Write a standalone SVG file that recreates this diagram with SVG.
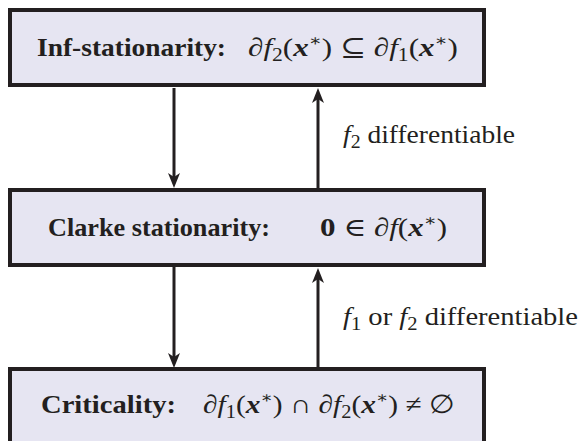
<svg xmlns="http://www.w3.org/2000/svg" width="582" height="441" viewBox="0 0 582 441">
<style>
  .box { fill: #e6e5f2; stroke: #231f20; stroke-width: 4; }
  .shaft { stroke: #231f20; stroke-width: 3; fill: none; }
  .head { fill: #231f20; stroke: none; }
  text { font-family: "Liberation Serif", "DejaVu Serif", serif; font-size: 26px; fill: #231f20; }
  .lbl { font-size: 25px; }
  .b { font-weight: bold; }
  .i { font-style: italic; }
  .bx { font-style: italic; font-weight: bold; }
  .sub { font-size: 18px; }
  .sup { font-size: 16px; }
</style>
<defs>
  <path id="hd" class="head" d="M0,0 L-6,-15 L0,-11 L6,-15 Z"/>
</defs>
<g id="connectors">
  <line class="shaft" x1="174" y1="88" x2="174" y2="178"/>
  <use href="#hd" transform="translate(174,188)"/>
  <line class="shaft" x1="318" y1="188" x2="318" y2="98"/>
  <use href="#hd" transform="translate(318,88) rotate(180)"/>
  <line class="shaft" x1="174" y1="267" x2="174" y2="358"/>
  <use href="#hd" transform="translate(174,368)"/>
  <line class="shaft" x1="318" y1="368" x2="318" y2="278"/>
  <use href="#hd" transform="translate(318,268) rotate(180)"/>
  <text class="lbl" x="343" y="143" textLength="172" lengthAdjust="spacingAndGlyphs"><tspan class="i">f</tspan><tspan class="sub" dy="5">2</tspan><tspan dy="-5"> differentiable</tspan></text>
  <text class="lbl" x="343" y="325" textLength="235" lengthAdjust="spacingAndGlyphs"><tspan class="i">f</tspan><tspan class="sub" dy="5">1</tspan><tspan dy="-5"> or </tspan><tspan class="i">f</tspan><tspan class="sub" dy="5">2</tspan><tspan dy="-5"> differentiable</tspan></text>
</g>
<g id="node-inf">
  <rect class="box" x="10" y="10" width="474" height="75"/>
  <text class="b" x="37" y="56" textLength="189" lengthAdjust="spacingAndGlyphs">Inf-stationarity:</text>
  <text x="248" y="56" textLength="210" lengthAdjust="spacingAndGlyphs">∂<tspan class="i">f</tspan><tspan class="sub" dy="5">2</tspan><tspan dy="-5">(</tspan><tspan class="bx">x</tspan><tspan class="sup" dy="-10">∗</tspan><tspan dy="10">) ⊆ ∂</tspan><tspan class="i">f</tspan><tspan class="sub" dy="5">1</tspan><tspan dy="-5">(</tspan><tspan class="bx">x</tspan><tspan class="sup" dy="-10">∗</tspan><tspan dy="10">)</tspan></text>
</g>
<g id="node-clarke">
  <rect class="box" x="10" y="190" width="474" height="75"/>
  <text class="b" x="48" y="236" textLength="222" lengthAdjust="spacingAndGlyphs">Clarke stationarity:</text>
  <text x="320" y="236" textLength="127" lengthAdjust="spacingAndGlyphs"><tspan class="b">0</tspan> ∈ ∂<tspan class="i">f</tspan>(<tspan class="bx">x</tspan><tspan class="sup" dy="-10">∗</tspan><tspan dy="10">)</tspan></text>
</g>
<g id="node-crit">
  <rect class="box" x="10" y="369" width="474" height="82"/>
  <text class="b" x="41" y="413" textLength="135" lengthAdjust="spacingAndGlyphs">Criticality:</text>
  <text x="203" y="413" textLength="252" lengthAdjust="spacingAndGlyphs">∂<tspan class="i">f</tspan><tspan class="sub" dy="5">1</tspan><tspan dy="-5">(</tspan><tspan class="bx">x</tspan><tspan class="sup" dy="-10">∗</tspan><tspan dy="10">) ∩ ∂</tspan><tspan class="i">f</tspan><tspan class="sub" dy="5">2</tspan><tspan dy="-5">(</tspan><tspan class="bx">x</tspan><tspan class="sup" dy="-10">∗</tspan><tspan dy="10">) ≠ ∅</tspan></text>
</g>
</svg>
